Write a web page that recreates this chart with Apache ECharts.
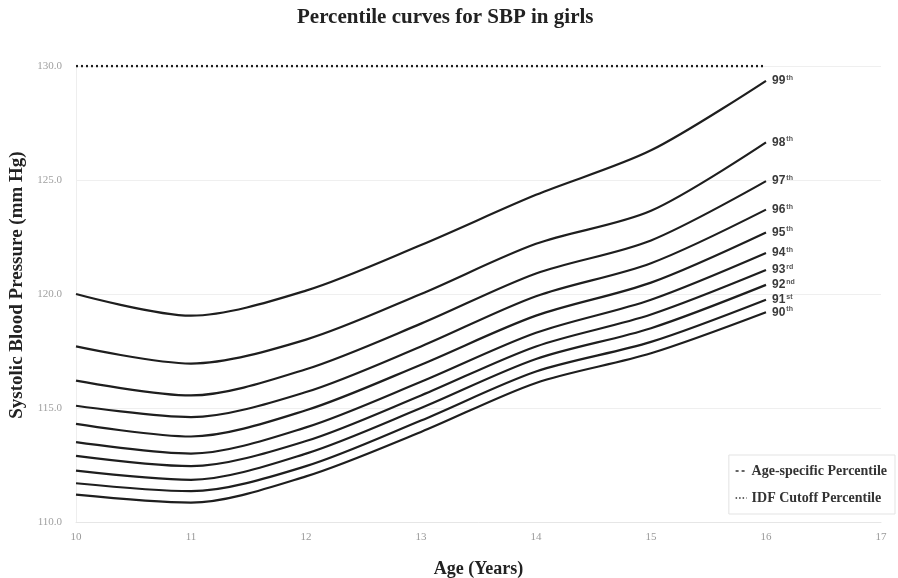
<!DOCTYPE html>
<html>
<head>
<meta charset="utf-8">
<script src="https://cdn.jsdelivr.net/npm/echarts@6/dist/echarts.min.js"></script>
<style>
  html, body { margin: 0; padding: 0; background: #fff; }
  #chart { width: 898px; height: 578px; }
</style>
</head>
<body>
<div id="chart"></div>
<script>
// Ages (years) at which the percentile curves are tabulated
const ages = [10, 11, 12, 13, 14, 15, 16];

// Systolic blood pressure (mm Hg) per percentile, one value per age
const p99 = [120.0, 119.05, 120.15, 122.15, 124.35, 126.3, 129.35];
const p98 = [117.7, 116.95, 118.0, 120.0, 122.2, 123.65, 126.65];
const p97 = [116.2, 115.55, 116.7, 118.7, 120.9, 122.35, 124.95];
const p96 = [115.1, 114.6, 115.7, 117.7, 119.9, 121.35, 123.7];
const p95 = [114.3, 113.75, 114.9, 116.9, 119.05, 120.5, 122.7];
const p94 = [113.5, 113.0, 114.15, 116.15, 118.3, 119.75, 121.8];
const p93 = [112.9, 112.45, 113.55, 115.55, 117.7, 119.1, 121.05];
const p92 = [112.25, 111.85, 113.0, 115.0, 117.15, 118.5, 120.4];
const p91 = [111.7, 111.35, 112.45, 114.45, 116.6, 117.9, 119.75];
const p90 = [111.2, 110.85, 112.0, 113.95, 116.1, 117.4, 119.2];

// Curve end labels: number and ordinal suffix
const percentileNums = ['99', '98', '97', '96', '95', '94', '93', '92', '91', '90'];
const percentileSuffix = ['th', 'th', 'th', 'th', 'th', 'th', 'rd', 'nd', 'st', 'th'];
const percentileValues = [p99, p98, p97, p96, p95, p94, p93, p92, p91, p90];

// IDF cutoff level
const cutoffAges = [10, 16];
const cutoffValue = 130;

// Axis ticks
const xTicks = [10, 11, 12, 13, 14, 15, 16, 17];
const yTicks = [110, 115, 120, 125, 130];

const serif = '"Liberation Serif", "DejaVu Serif", serif';
const sans = '"Liberation Sans", Arial, sans-serif';
const lineColor = '#1e1e1e';

const curveSeries = percentileValues.map((vals, i) => ({
  name: 'Age-specific Percentile',
  type: 'line',
  smooth: 0.3,
  symbol: 'none',
  silent: true,
  color: lineColor,
  data: ages.map((a, k) => [a, vals[k]]),
  lineStyle: { color: lineColor, width: 2.2 },
  endLabel: {
    show: true,
    distance: 6,
    formatter: () => '{n|' + percentileNums[i] + '}{s|' + percentileSuffix[i] + '}',
    rich: {
      n: { fontFamily: sans, fontWeight: 'bold', fontSize: 12, color: '#3a3a3a' },
      s: { fontFamily: sans, fontWeight: 'bold', fontSize: 7, color: '#555', verticalAlign: 'top', padding: [0, 0, 6, 1] }
    }
  }
}));

const cutoffSeries = {
  name: 'IDF Cutoff Percentile',
  type: 'line',
  symbol: 'none',
  silent: true,
  color: lineColor,
  data: cutoffAges.map(a => [a, cutoffValue]),
  lineStyle: { color: lineColor, width: 2.5, type: [2, 3] }
};

const chart = echarts.init(document.getElementById('chart'), null, { renderer: 'canvas' });
chart.setOption({
  animation: false,
  backgroundColor: '#fff',
  title: {
    text: 'Percentile curves for SBP in girls',
    left: 292,
    top: 2,
    textStyle: { fontFamily: serif, fontWeight: 'bold', fontSize: 21, color: '#222' }
  },
  grid: { left: 76, right: 17, top: 66, bottom: 56, containLabel: false, outerBoundsMode: 'none' },
  legend: {
    orient: 'vertical',
    right: 3,
    top: 455,
    itemWidth: 11,
    itemHeight: 4,
    itemGap: 13,
    padding: [9, 8, 9, 6],
    borderColor: '#e3e3e3',
    borderWidth: 1,
    itemStyle: { opacity: 0 },
    textStyle: { fontFamily: serif, fontWeight: 'bold', fontSize: 14, color: '#333' },
    data: [
      { name: 'Age-specific Percentile', lineStyle: { type: [3, 3], width: 1.5, color: '#333' } },
      { name: 'IDF Cutoff Percentile', lineStyle: { type: [1.5, 2], width: 1.5, color: '#333' } }
    ]
  },
  xAxis: {
    type: 'value',
    min: xTicks[0],
    max: xTicks[xTicks.length - 1],
    interval: 1,
    name: 'Age (Years)',
    nameLocation: 'middle',
    nameGap: 38,
    nameTextStyle: { fontFamily: serif, fontWeight: 'bold', fontSize: 18, color: '#222' },
    axisLine: { show: true, lineStyle: { color: '#e6e6e6' } },
    axisTick: { show: false },
    splitLine: { show: false },
    axisLabel: { fontFamily: serif, fontSize: 11, color: '#9a9a9a', margin: 10 }
  },
  yAxis: {
    type: 'value',
    min: yTicks[0],
    max: yTicks[yTicks.length - 1],
    interval: 5,
    name: 'Systolic Blood Pressure (mm Hg)',
    nameLocation: 'middle',
    nameGap: 49,
    nameTextStyle: { fontFamily: serif, fontWeight: 'bold', fontSize: 19, color: '#222', padding: [0, 0, 0, 18] },
    axisLine: { show: true, lineStyle: { color: '#eeeeee' } },
    axisTick: { show: false },
    splitLine: { show: true, lineStyle: { color: '#efefef', width: 1 } },
    axisLabel: {
      fontFamily: serif, fontSize: 11, color: '#a0a0a0', margin: 14,
      formatter: v => v.toFixed(1)
    }
  },
  series: [cutoffSeries, ...curveSeries]
});
</script>
</body>
</html>
